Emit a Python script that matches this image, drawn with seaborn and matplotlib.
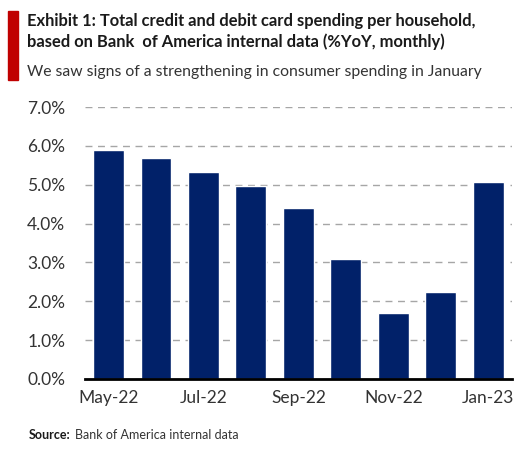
"""
Card spending per household, %YoY, monthly bar chart.

Outputs:
    out.png
"""

import pandas as pd
import seaborn as sns
import matplotlib.pyplot as plt
from matplotlib.patches import Rectangle
from matplotlib.ticker import FuncFormatter


# ---------------------------------------------------------------------
# Data
# ---------------------------------------------------------------------

MONTHS = [
    "May-22", "Jun-22", "Jul-22", "Aug-22", "Sep-22",
    "Oct-22", "Nov-22", "Dec-22", "Jan-23",
]
SPENDING_YOY = [5.90, 5.69, 5.33, 4.98, 4.40, 3.08, 1.69, 2.23, 5.07]

TITLE = (
    "Exhibit 1: Total credit and debit card spending per household,\n"
    "based on Bank  of America internal data (%YoY, monthly)"
)
SUBTITLE = "We saw signs of a strengthening in consumer spending in January"
SOURCE = "Bank of America internal data"

NAVY = "#012169"
RED = "#c00000"
TEXT = "#333333"


def main():
    sns.set_style("white")
    plt.rcParams["font.family"] = ["Lato", "DejaVu Sans"]

    df = pd.DataFrame({"month": MONTHS, "yoy": SPENDING_YOY})

    fig = plt.figure(figsize=(5.3, 4.5), dpi=100)
    ax = fig.add_axes([0.160, 0.158, 0.806, 0.604])

    sns.barplot(
        data=df,
        x="month",
        y="yoy",
        color=NAVY,
        width=0.65,
        saturation=1,
        ax=ax,
        zorder=3,
    )

    ax.set_xlim(-0.5, len(MONTHS) - 0.5)
    ax.set_ylim(0, 7)
    ax.set_yticks(range(0, 8))
    ax.yaxis.set_major_formatter(FuncFormatter(lambda v, _: f"{v:.1f}%"))

    ticks = list(range(len(MONTHS)))[::2]
    ax.set_xticks(ticks)
    ax.set_xticklabels(MONTHS[::2])

    ax.tick_params(axis="both", length=0, labelsize=12.5, labelcolor=TEXT)
    ax.tick_params(axis="x", pad=8)
    ax.tick_params(axis="y", pad=14)
    ax.set_xlabel("")
    ax.set_ylabel("")

    ax.yaxis.grid(True, color="#a6a6a6", linestyle=(0, (5, 4)), linewidth=1)
    ax.set_axisbelow(True)

    for side in ["left", "right", "top"]:
        ax.spines[side].set_visible(False)
    ax.spines["bottom"].set_color("black")
    ax.spines["bottom"].set_linewidth(2)
    ax.spines["bottom"].set_zorder(4)

    # header
    fig.patches.append(
        Rectangle((8 / 530, 1 - 80 / 450), 10 / 530, 69 / 450,
                  transform=fig.transFigure, color=RED)
    )
    fig.text(27 / 530, 1 - 13 / 450, TITLE, fontsize=11.9, fontweight="bold",
             color="#1a1a1a", va="top", ha="left", linespacing=1.3)
    fig.text(27 / 530, 1 - 72 / 450, SUBTITLE, fontsize=11.3, color=TEXT,
             va="center", ha="left")

    # footer
    src = fig.text(29 / 530, 1 - 435 / 450, "Source:", fontsize=9,
                   fontweight="bold", color="#1a1a1a", va="center", ha="left")
    fig.canvas.draw()
    bbox = src.get_window_extent()
    fig.text((bbox.x1 + 4) / 530, 1 - 435 / 450, SOURCE, fontsize=9,
             color=TEXT, va="center", ha="left")

    fig.savefig("out.png", dpi=100)
    plt.close(fig)


if __name__ == "__main__":
    main()
